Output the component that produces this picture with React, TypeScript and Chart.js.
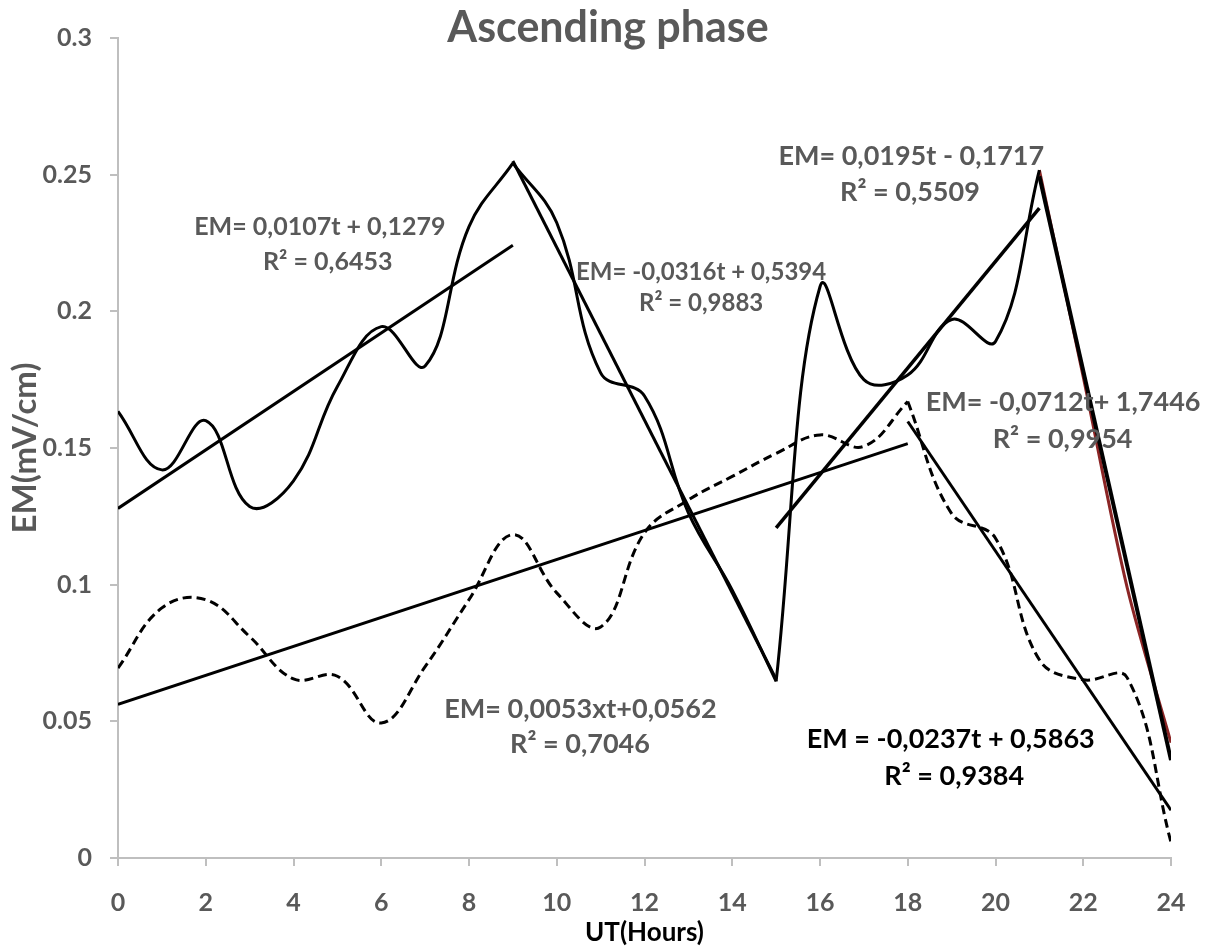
import React, { useEffect, useRef } from 'react';
import { Chart, registerables } from 'chart.js';

Chart.register(...registerables);

// ---- Data ----
const hoursA = [0, 1, 2, 3, 4, 5, 6, 7, 8, 9, 10, 11, 12, 13, 14, 15];
const emA = [0.1634, 0.142, 0.16, 0.1286, 0.138, 0.1725, 0.1944, 0.18, 0.231, 0.2542, 0.2324, 0.1775, 0.169, 0.1263, 0.098, 0.0646];

const hoursB = [0, 1, 2, 3, 4, 5, 6, 7, 8, 9, 10, 11, 12, 13, 14, 15, 16, 17, 18, 19, 20, 21, 22, 23, 24];
const emB = [0.0695, 0.0915, 0.0945, 0.081, 0.0655, 0.0665, 0.0494, 0.07, 0.0945, 0.1183, 0.097, 0.0845, 0.119, 0.131, 0.1396, 0.148, 0.1548, 0.1506, 0.167, 0.126, 0.117, 0.0725, 0.0652, 0.066, 0.0057];

const hoursC = [15, 16, 17, 18, 19, 20, 21, 22, 23, 24];
const emC = [0.0646, 0.209, 0.175, 0.1767, 0.197, 0.189, 0.2517, 0.176, 0.099, 0.0422];

// trend lines (end points)
const trend1T = [0, 9];
const trend1EM = [0.1279, 0.2242];
const trend2T = [9, 15];
const trend2EM = [0.255, 0.0654];
const trend3T = [0, 18];
const trend3EM = [0.0562, 0.1516];
const trend4T = [15, 21];
const trend4EM = [0.1208, 0.2378];
const trend5T = [21, 24];
const trend5EM = [0.2494, 0.0358];
const trend6T = [18, 24];
const trend6EM = [0.1597, 0.0175];

const xTickLabels = ['0', '2', '4', '6', '8', '10', '12', '14', '16', '18', '20', '22', '24'];
const yTickLabels = ['0', '0.05', '0.1', '0.15', '0.2', '0.25', '0.3'];

const chartTitle = 'Ascending phase';
const xTitle = 'UT(Hours)';
const yTitle = 'EM(mV/cm)';

const equationTexts = [
  'EM= 0,0107t + 0,1279', 'R² = 0,6453',
  'EM= -0,0316t + 0,5394', 'R² = 0,9883',
  'EM= 0,0195t - 0,1717', 'R² = 0,5509',
  'EM= -0,0712t+ 1,7446', 'R² = 0,9954',
  'EM= 0,0053xt+0,0562', 'R² = 0,7046',
  'EM = -0,0237t + 0,5863', 'R² = 0,9384',
];
// anchor (center x in hours, baseline in EM units)
const equationAnchorT = [4.6, 4.78, 13.29, 13.29, 18.08, 18.05, 21.54, 21.53, 10.54, 10.53, 18.98, 19.06];
const equationAnchorEM = [0.228, 0.2152, 0.2115, 0.2, 0.2536, 0.2402, 0.1634, 0.15, 0.0512, 0.0385, 0.0403, 0.0268];
const equationFontPx = [25, 25, 24, 24, 27, 27, 27, 27, 27, 27, 27, 27];

const GRAY = '#595959';
const AXIS = '#BFBFBF';
const FONT = 'Lato';

const pts = (xs: number[], ys: number[]) => xs.map((x, i) => ({ x, y: ys[i] }));

const textPlugin = {
  id: 'textPlugin',
  afterDraw(chart: any) {
    const ctx = chart.ctx;
    const xs = chart.scales.x;
    const ys = chart.scales.y;
    ctx.save();
    ctx.textAlign = 'center';
    ctx.textBaseline = 'alphabetic';
    equationTexts.forEach((txt, i) => {
      ctx.font = `bold ${equationFontPx[i]}px ${FONT}`;
      ctx.fillStyle = i >= 10 ? '#000000' : GRAY;
      ctx.fillText(txt, xs.getPixelForValue(equationAnchorT[i]), ys.getPixelForValue(equationAnchorEM[i]));
    });
    // title
    ctx.font = `bold 43px ${FONT}`;
    ctx.fillStyle = GRAY;
    ctx.fillText(chartTitle, 608, 42);
    // x title
    ctx.font = `bold 26px ${FONT}`;
    ctx.fillStyle = '#000000';
    ctx.fillText(xTitle, (chart.chartArea.left + chart.chartArea.right) / 2, 941);
    // y title
    ctx.translate(36, (chart.chartArea.top + chart.chartArea.bottom) / 2);
    ctx.rotate(-Math.PI / 2);
    ctx.font = `bold 33px ${FONT}`;
    ctx.fillStyle = GRAY;
    ctx.fillText(yTitle, 0, 0);
    ctx.restore();
  },
};

export default function App() {
  const ref = useRef<HTMLCanvasElement | null>(null);
  useEffect(() => {
    document.body.style.margin = '0';
    const canvas = ref.current!;
    const lineBase = { pointRadius: 0, fill: false, borderColor: '#000000' };
    const curve = { ...lineBase, borderWidth: 3, tension: 0.4 };
    const chart = new Chart(canvas, {
      type: 'line',
      data: {
        datasets: [
          { ...lineBase, label: 'T5', data: pts(trend5T, trend5EM), borderWidth: 4, tension: 0 },
          { ...lineBase, label: 'T4', data: pts(trend4T, trend4EM), borderWidth: 3.5, tension: 0 },
          { ...lineBase, label: 'T1', data: pts(trend1T, trend1EM), borderWidth: 3, tension: 0 },
          { ...lineBase, label: 'T2', data: pts(trend2T, trend2EM), borderWidth: 3, tension: 0 },
          { ...lineBase, label: 'T3', data: pts(trend3T, trend3EM), borderWidth: 3, tension: 0 },
          { ...lineBase, label: 'T6', data: pts(trend6T, trend6EM), borderWidth: 3, tension: 0 },
          { ...curve, label: 'A rise', data: pts(hoursA.slice(0, 10), emA.slice(0, 10)) },
          { ...curve, label: 'A fall', data: pts(hoursA.slice(9), emA.slice(9)) },
          { ...curve, label: 'C rise', data: pts(hoursC.slice(0, 7), emC.slice(0, 7)) },
          { ...curve, label: 'C fall', data: pts(hoursC.slice(6), emC.slice(6)), borderColor: '#8B2525', borderWidth: 3, tension: 0.3 },
          { ...curve, label: 'B rise', data: pts(hoursB.slice(0, 19), emB.slice(0, 19)), borderDash: [9, 5] },
          { ...curve, label: 'B fall', data: pts(hoursB.slice(18), emB.slice(18)), borderDash: [9, 5] },
        ],
      },
      options: {
        responsive: false,
        animation: false,
        layout: { padding: { left: 0, right: 39, top: 38, bottom: 0 } },
        plugins: { legend: { display: false }, tooltip: { enabled: false }, title: { display: false } },
        scales: {
          x: {
            type: 'linear',
            min: 0,
            max: 24,
            afterFit: (s: any) => { s.height = 91; },
            ticks: {
              stepSize: 2,
              color: GRAY,
              font: { family: FONT, size: 25, weight: 'bold' },
              padding: 22,
              maxRotation: 0,
              callback: (_v: any, i: number) => xTickLabels[i],
            },
            grid: { drawOnChartArea: false, drawTicks: true, tickLength: 8, color: AXIS, lineWidth: 2 },
            border: { color: AXIS, width: 2 },
          },
          y: {
            type: 'linear',
            min: 0,
            max: 0.3,
            afterFit: (s: any) => { s.width = 118; },
            ticks: {
              stepSize: 0.05,
              color: GRAY,
              font: { family: FONT, size: 25, weight: 'bold' },
              padding: 18,
              callback: (_v: any, i: number) => yTickLabels[i],
            },
            grid: { drawOnChartArea: false, drawTicks: true, tickLength: 8, color: AXIS, lineWidth: 2 },
            border: { color: AXIS, width: 2 },
          },
        },
      },
      plugins: [textPlugin],
    });
    return () => chart.destroy();
  }, []);
  return (
    <canvas ref={ref} width={1210} height={949} style={{ display: 'block', width: 1210, height: 949 }} />
  );
}
